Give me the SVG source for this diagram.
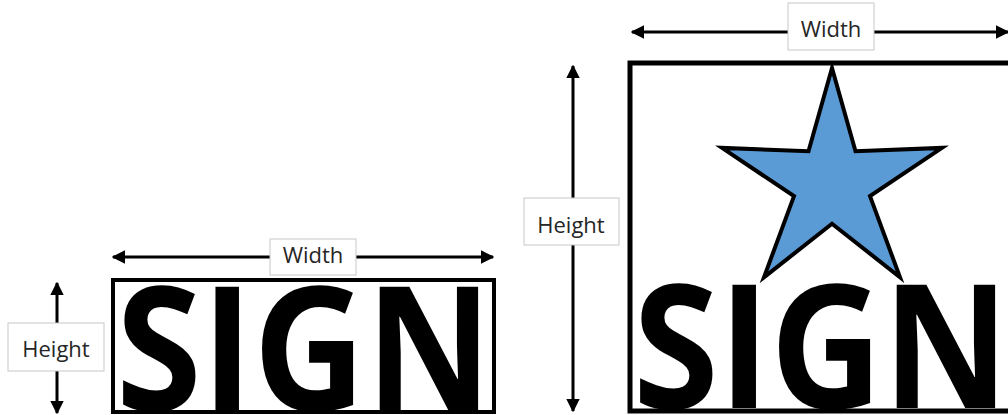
<svg xmlns="http://www.w3.org/2000/svg" width="1008" height="415" viewBox="0 0 1008 415">
<defs>
<marker id="ah" viewBox="0 0 10 10" refX="9" refY="5" markerWidth="4.6" markerHeight="4.6" orient="auto-start-reverse" markerUnits="strokeWidth">
<path d="M0,0 L10,5 L0,10 z" fill="#000"/>
</marker>
<style>
.dim{stroke:#000;stroke-width:3;fill:none;marker-start:url(#ah);marker-end:url(#ah);}
.lbox{fill:#fff;stroke:#c8c8c8;stroke-width:1;}
.lbl{font-family:"Open Sans","Noto Sans",sans-serif;font-size:22px;fill:#262626;text-anchor:middle;}
.sign{font-family:"Open Sans","Noto Sans",sans-serif;font-weight:bold;font-size:172px;fill:#000;}
.frame{fill:none;stroke:#000;}
</style>
</defs>
<g id="connectors">
<line class="dim" x1="113" y1="257" x2="493" y2="257"/>
<line class="dim" x1="57" y1="283" x2="57" y2="413"/>
<line class="dim" x1="632" y1="32" x2="1008" y2="32"/>
<line class="dim" x1="573" y1="66" x2="573" y2="411"/>
</g>
<g id="small-sign">
<rect class="frame" x="113" y="280" width="381" height="132" stroke-width="4"/>
<text class="sign" x="116" y="410" textLength="376" lengthAdjust="spacingAndGlyphs">SIGN</text>
</g>
<g id="large-sign">
<rect class="frame" x="630" y="63" width="420" height="348" stroke-width="5"/>
<polygon points="832,68 855.5,151.3 942,147.9 870,196.1 900,277.3 832,223.7 764,277.3 794,196.1 722,147.9 808.5,151.3" fill="#5B9BD5" stroke="#000" stroke-width="4" stroke-linejoin="miter"/>
<text class="sign" x="633" y="408" textLength="376" lengthAdjust="spacingAndGlyphs">SIGN</text>
</g>
<g id="label-width-small">
<rect class="lbox" x="270" y="239" width="86" height="36"/>
<text class="lbl" x="313" y="263">Width</text>
</g>
<g id="label-height-small">
<rect class="lbox" x="8" y="323" width="96" height="48"/>
<text class="lbl" x="56" y="357">Height</text>
</g>
<g id="label-width-large">
<rect class="lbox" x="788" y="3" width="86" height="47"/>
<text class="lbl" x="831" y="37">Width</text>
</g>
<g id="label-height-large">
<rect class="lbox" x="524" y="198" width="95" height="47"/>
<text class="lbl" x="571" y="233">Height</text>
</g>
</svg>
